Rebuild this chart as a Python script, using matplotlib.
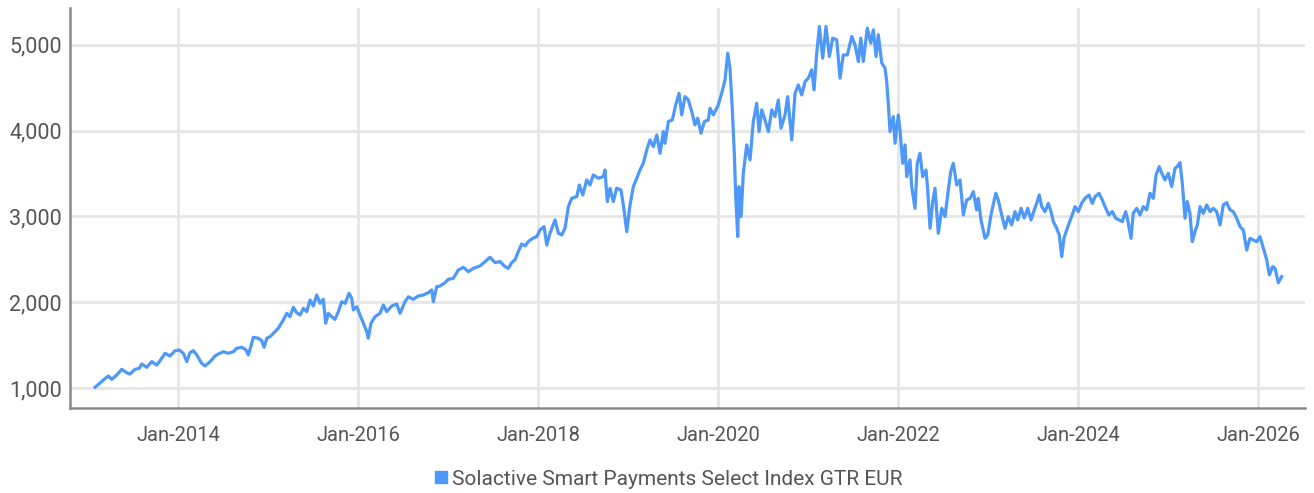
import numpy as np
import pandas as pd
import matplotlib
matplotlib.use("Agg")
import matplotlib.pyplot as plt
import matplotlib.dates as mdates
from matplotlib.ticker import FuncFormatter
from matplotlib.lines import Line2D

# index level, dates as decimal years
years = [
    2013.078, 2013.170, 2013.226, 2013.263, 2013.319, 2013.374, 2013.430, 2013.467, 2013.522, 2013.570,
    2013.597, 2013.652, 2013.708, 2013.763, 2013.800, 2013.856, 2013.911, 2013.967, 2014.014, 2014.059,
    2014.097, 2014.133, 2014.170, 2014.208, 2014.263, 2014.300, 2014.356, 2014.411, 2014.448, 2014.503,
    2014.559, 2014.614, 2014.652, 2014.708, 2014.756, 2014.781, 2014.819, 2014.837, 2014.892, 2014.930,
    2014.956, 2014.986, 2015.022,
    2015.114, 2015.170, 2015.208, 2015.244, 2015.281, 2015.319, 2015.356, 2015.392, 2015.430, 2015.467,
    2015.503, 2015.541, 2015.578, 2015.614, 2015.641, 2015.670, 2015.708, 2015.744, 2015.781, 2015.819,
    2015.856, 2015.900, 2015.930, 2015.948, 2015.986, 2016.022, 2016.059, 2016.097, 2016.114, 2016.144,
    2016.189, 2016.244, 2016.281, 2016.319, 2016.374, 2016.430, 2016.467, 2016.522, 2016.559, 2016.614,
    2016.670, 2016.726, 2016.781, 2016.819, 2016.837, 2016.874, 2016.911, 2016.967,
    2017.003, 2017.059, 2017.114, 2017.170, 2017.226, 2017.281, 2017.356, 2017.411, 2017.467, 2017.522,
    2017.578, 2017.633, 2017.670, 2017.708, 2017.744, 2017.781, 2017.819, 2017.856, 2017.892, 2017.941,
    2017.986, 2018.022, 2018.067, 2018.097, 2018.133, 2018.189, 2018.226, 2018.263, 2018.300, 2018.337,
    2018.374, 2018.430, 2018.459, 2018.497, 2018.541, 2018.578, 2018.614, 2018.670, 2018.726, 2018.744,
    2018.770, 2018.800, 2018.837,
    2018.874, 2018.922, 2018.948, 2018.986, 2019.022, 2019.059, 2019.097, 2019.133, 2019.170, 2019.208,
    2019.244, 2019.281, 2019.319, 2019.356, 2019.392, 2019.411, 2019.448, 2019.492, 2019.530, 2019.567,
    2019.597, 2019.633, 2019.670, 2019.708, 2019.744, 2019.774, 2019.811, 2019.848, 2019.892, 2019.911,
    2019.948, 2020.003, 2020.041, 2020.078, 2020.108, 2020.133, 2020.159, 2020.181, 2020.197, 2020.219,
    2020.233, 2020.256, 2020.281, 2020.319, 2020.356, 2020.392, 2020.430, 2020.456, 2020.486, 2020.522,
    2020.559, 2020.597, 2020.633, 2020.670, 2020.700, 2020.744, 2020.774, 2020.819, 2020.856,
    2020.892, 2020.930, 2020.967, 2021.003, 2021.041, 2021.067, 2021.097, 2021.126, 2021.163, 2021.200,
    2021.237, 2021.274, 2021.319, 2021.356, 2021.392, 2021.437, 2021.486, 2021.522, 2021.559, 2021.586,
    2021.614, 2021.659, 2021.697, 2021.726, 2021.756, 2021.781, 2021.819, 2021.856, 2021.874, 2021.892,
    2021.911, 2021.948, 2021.967, 2022.003, 2022.022, 2022.052, 2022.078, 2022.097, 2022.133, 2022.152,
    2022.189, 2022.214, 2022.244, 2022.274, 2022.311, 2022.330, 2022.356, 2022.386, 2022.411, 2022.448,
    2022.486, 2022.522, 2022.559, 2022.586, 2022.614, 2022.652, 2022.689, 2022.726, 2022.763,
    2022.800, 2022.837, 2022.874, 2022.892, 2022.922, 2022.967, 2022.997, 2023.033, 2023.086, 2023.114,
    2023.152, 2023.189, 2023.226, 2023.263, 2023.300, 2023.330, 2023.367, 2023.403, 2023.441, 2023.478,
    2023.514, 2023.541, 2023.570, 2023.597, 2023.633, 2023.670, 2023.700, 2023.726, 2023.763, 2023.792,
    2023.819, 2023.844, 2023.874, 2023.922, 2023.967, 2024.003, 2024.041, 2024.078, 2024.122, 2024.159,
    2024.189, 2024.233, 2024.270, 2024.308, 2024.344, 2024.381, 2024.419, 2024.456, 2024.492, 2024.530,
    2024.552, 2024.589, 2024.614, 2024.652, 2024.689,
    2024.726, 2024.763, 2024.800, 2024.837, 2024.867, 2024.903, 2024.930, 2024.967, 2025.003, 2025.041,
    2025.078, 2025.103, 2025.133, 2025.159, 2025.189, 2025.214, 2025.244, 2025.270, 2025.300, 2025.326,
    2025.356, 2025.392, 2025.430, 2025.467, 2025.503, 2025.541, 2025.578, 2025.614, 2025.652, 2025.689,
    2025.726, 2025.763, 2025.800, 2025.837, 2025.874, 2025.911, 2025.948, 2025.986, 2026.022, 2026.059,
    2026.097, 2026.126, 2026.163, 2026.189, 2026.226, 2026.263,
]
values = [
    1008, 1093, 1140, 1101, 1152, 1218, 1178, 1163, 1218, 1230,
    1280, 1241, 1307, 1268, 1318, 1405, 1373, 1435, 1443, 1405,
    1307, 1412, 1435, 1385, 1288, 1257, 1307, 1373, 1396, 1423,
    1405, 1423, 1463, 1475, 1443, 1385, 1521, 1591, 1580, 1552,
    1475, 1580, 1598,
    1696, 1793, 1871, 1831, 1941, 1878, 1851, 1929, 1890, 2026,
    1956, 2084, 1987, 2034, 1755, 1871, 1831, 1801, 1890, 2006,
    1987, 2104, 2045, 1910, 1948, 1851, 1755, 1657, 1580, 1755,
    1831, 1871, 1968, 1890, 1956, 1979, 1871, 2006, 2064, 2034,
    2073, 2084, 2111, 2143, 2006, 2181, 2189, 2228,
    2267, 2279, 2376, 2407, 2356, 2395, 2423, 2473, 2524, 2462,
    2473, 2415, 2395, 2462, 2493, 2590, 2679, 2656, 2706, 2745,
    2765, 2842, 2881, 2667, 2804, 2959, 2804, 2784, 2862, 3114,
    3211, 3231, 3367, 3250, 3425, 3367, 3484, 3445, 3464, 3542,
    3173, 3328, 3173,
    3330, 3309, 3134, 2823, 3134, 3348, 3445, 3542, 3620, 3775,
    3892, 3814, 3950, 3736, 3989, 3853, 4106, 4125, 4300, 4436,
    4183, 4397, 4358, 4222, 4067, 4145, 3970, 4106, 4125, 4261,
    4183, 4300, 4436, 4592, 4903, 4728, 4242, 3736, 3231, 2765,
    3348, 2998, 3503, 3834, 3659, 4106, 4319, 3989, 4242, 4125,
    3989, 4242, 4164, 4358, 4028, 4183, 4397, 3892, 4436,
    4533, 4416, 4572, 4611, 4708, 4475, 4903, 5214, 4844, 5214,
    4864, 5078, 5058, 4611, 4883, 4883, 5097, 5000, 4806, 5078,
    4806, 5195, 5020, 5175, 4864, 5117, 4790, 4728, 4572, 4320,
    3989, 4164, 3853, 4183, 4008, 3620, 3834, 3464, 3659, 3348,
    3095, 3620, 3736, 3464, 3542, 3309, 2862, 3173, 3328, 2804,
    3095, 2998, 3309, 3523, 3620, 3367, 3425, 3017, 3192,
    3211, 3289, 3076, 3211, 2959, 2745, 2784, 3017, 3270, 3192,
    3017, 2862, 2998, 2901, 3056, 2959, 3095, 2982, 3095, 2959,
    3076, 3153, 3250, 3114, 3056, 3153, 3056, 2940, 2862, 2784,
    2532, 2745, 2842, 2979, 3114, 3056, 3153, 3211, 3250, 3153,
    3231, 3270, 3192, 3095, 3017, 3056, 2979, 2959, 2940, 3056,
    2959, 2745, 3036, 3095, 3017,
    3114, 3076, 3270, 3211, 3484, 3581, 3503, 3425, 3503, 3348,
    3562, 3581, 3628, 3386, 2979, 3173, 3036, 2706, 2823, 2901,
    3114, 3036, 3134, 3056, 3095, 3056, 2901, 3134, 3161, 3076,
    3056, 2979, 2881, 2842, 2609, 2745, 2725, 2706, 2765, 2629,
    2493, 2318, 2415, 2395, 2228, 2298,
]
series_name = "Solactive Smart Payments Select Index GTR EUR"
tick_years = [2014, 2016, 2018, 2020, 2022, 2024, 2026]
y_ticks = [1000, 2000, 3000, 4000, 5000]

def to_date(y):
    y = np.asarray(y, dtype=float)
    return pd.Timestamp("2014-01-01") + pd.to_timedelta((y - 2014) * 365.25, unit="D")

dates = to_date(years)

plt.rcParams['font.family'] = ['Roboto', 'DejaVu Sans']
line_color = "#4d98f8"
text_color = "#555555"

fig = plt.figure(figsize=(13.14, 4.93), dpi=100)
ax = fig.add_axes([0.0533, 0.1724, 0.9397, 0.8116])

ax.plot(dates, values, color=line_color, lw=2.3, solid_joinstyle='round')

ax.set_xlim(to_date([2012.80])[0], to_date([2026.52])[0])
ax.set_ylim(767, 5431)
ax.set_xticks(to_date(tick_years))
ax.xaxis.set_major_formatter(mdates.DateFormatter("%b-%Y"))
ax.set_yticks(y_ticks)
ax.yaxis.set_major_formatter(FuncFormatter(lambda v, p: f"{v:,.0f}"))

ax.grid(True, color="#e6e6e6", lw=2)
ax.set_axisbelow(True)
for s in ["top", "right"]:
    ax.spines[s].set_visible(False)
for s in ["left", "bottom"]:
    ax.spines[s].set_color("#888888")
    ax.spines[s].set_linewidth(1.8)
ax.tick_params(axis="both", length=0, colors=text_color)
ax.tick_params(axis="y", labelsize=15.5, pad=6)
ax.tick_params(axis="x", labelsize=14.5, pad=13)

handle = Line2D([], [], marker="s", color=line_color, lw=0, markersize=8)
fig.legend([handle], [series_name], loc="center", bbox_to_anchor=(0.508, 0.028),
           frameon=False, fontsize=15, labelcolor=text_color, handletextpad=0.1,
           handlelength=0.8)

fig.savefig("out.png", dpi=100)
